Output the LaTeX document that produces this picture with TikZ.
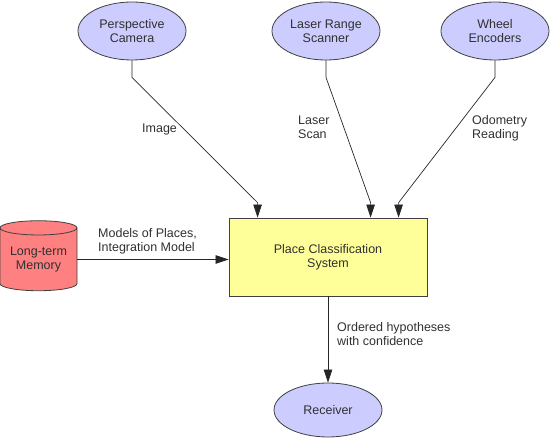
\documentclass[tikz,border=0pt]{standalone}
\usepackage{fontspec}
\setmainfont{Liberation Sans}
\usepackage{xcolor}
\usetikzlibrary{shapes.geometric}
\usetikzlibrary{arrows.meta}

\definecolor{sensorblue}{HTML}{CCCCFF}
\definecolor{boxyellow}{HTML}{FFFF99}
\definecolor{memred}{HTML}{FF8080}
\definecolor{edgegray}{HTML}{404040}
\definecolor{textgray}{HTML}{303030}

\tikzset{
    sensor/.style={ellipse, draw=edgegray, fill=sensorblue, line width=0.8pt,
        minimum width=108pt, minimum height=58pt, inner sep=0pt, align=center},
    flow/.style={draw=black!85, line width=0.7pt,
        -{Triangle[width=8.5pt,length=13pt]}},
    lbl/.style={anchor=west, align=left, inner sep=0pt, text=textgray}
}

\begin{document}
\begin{tikzpicture}[x=1pt, y=-1pt, font=\fontsize{12.5}{14}\selectfont, text=textgray]
    \useasboundingbox (0,0) rectangle (550,446);

    \node[sensor] (camera) at (132,31) {Perspective\\Camera};
    \node[sensor] (scanner) at (326,31) {Laser Range\\Scanner};
    \node[sensor] (encoders) at (495,31) {Wheel\\Encoders};

    \node[draw=edgegray, fill=boxyellow, line width=0.8pt, minimum width=198pt,
        minimum height=78pt, align=center] (pcs) at (328,257)
        {Place Classification\\System};

    \node[cylinder, shape border rotate=90, aspect=0.25, draw=edgegray,
        fill=memred, line width=0.8pt, minimum width=77pt, minimum height=70pt,
        align=center, inner sep=0pt] (memory) at (38.5,259.5) {Long-term\\Memory};

    \node[sensor, minimum height=54pt] (receiver) at (328,410) {Receiver};

    % inputs from sensors
    \draw[flow] (camera.south) -- ++(0,17)
        -- ([xshift=29pt,yshift=15pt]pcs.north west) -- ([xshift=29pt]pcs.north west);
    \draw[flow] (scanner.south) -- ++(0,17)
        -- ([xshift=142pt,yshift=15pt]pcs.north west) -- ([xshift=142pt]pcs.north west);
    \draw[flow] (encoders.south) -- ++(0,17)
        -- ([xshift=170pt,yshift=15pt]pcs.north west) -- ([xshift=170pt]pcs.north west);

    \draw[flow] (memory.east) -- (memory.east -| pcs.west);
    \draw[flow] (pcs.south) -- (receiver.north);

    \node[lbl] (image) at (142,130) {Image};
    \node[lbl] (scan) at (298,127) {Laser\\Scan};
    \node[lbl] (odometry) at (472,128) {Odometry\\Reading};
    \node[lbl] (models) at (98,241) {Models of Places,\\Integration Model};
    \node[lbl] (hypotheses) at (337,334) {Ordered hypotheses\\with confidence};
\end{tikzpicture}
\end{document}
